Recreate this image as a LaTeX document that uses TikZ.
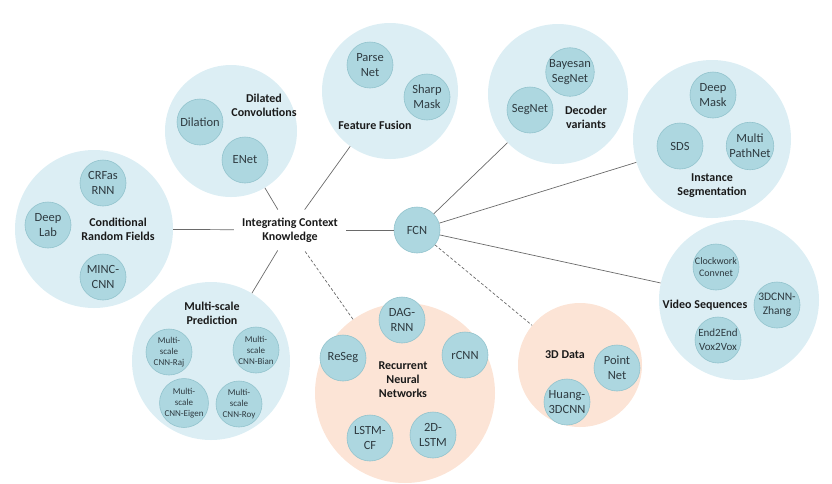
\documentclass[tikz,border=0pt]{standalone}
\usepackage{fontspec}
\setmainfont{Carlito}
\definecolor{bigb}{HTML}{DCEEF4}
\definecolor{peach}{HTML}{FCE4D6}
\definecolor{smb}{HTML}{ADD7E0}
\definecolor{smbd}{HTML}{92C3CD}
\definecolor{txt}{HTML}{2E3A40}
\definecolor{lbtxt}{HTML}{1A1A1A}
\definecolor{lc}{HTML}{6A6A6A}
\begin{document}
\begin{tikzpicture}[x=1pt,y=-1pt,
  bigblue/.style={circle, fill=bigb, inner sep=0pt, minimum size=#1},
  bigpeach/.style={circle, fill=peach, inner sep=0pt, minimum size=#1},
  sm/.style={circle, fill=smb, draw=smbd, line width=0.6pt, inner sep=0pt, minimum size=46pt,
    font=\fontsize{12.5}{15}\selectfont, text=txt, align=center},
  smx/.style={sm, font=\fontsize{9}{11}\selectfont},
  lbl/.style={font=\bfseries\fontsize{12}{14}\selectfont, align=center, text=lbtxt},
  conn/.style={draw=lc, line width=0.7pt},
  dconn/.style={conn, dash pattern=on 3pt off 2pt}]
\useasboundingbox (0,0) rectangle (832,483);

% big circles
\node[bigblue=158pt] (crf) at (94,229) {};
\node[bigblue=132pt] (dil) at (231,131) {};
\node[bigblue=136pt] (ff) at (390,91) {};
\node[bigblue=140pt] (dec) at (558,94) {};
\node[bigblue=158pt] (ins) at (712,139) {};
\node[bigblue=160pt] (vid) at (739,300) {};
\node[bigpeach=124pt] (d3) at (580,365) {};
\node[bigpeach=180pt] (rnn) at (405,393) {};
\node[bigblue=158pt] (ms) at (211,361) {};

% hubs
\node[lbl, inner sep=8pt] (ick) at (290,230) {Integrating Context\\Knowledge};
\node[sm] (fcn) at (417,230) {FCN};

% connectors
\draw[conn] (crf) -- (ick);
\draw[conn] (dil) -- (ick);
\draw[conn] (ff) -- (ick);
\draw[conn] (ms) -- (ick);
\draw[dconn] (rnn) -- (ick);
\draw[conn] (ick) -- (fcn);
\draw[conn] (fcn) -- (dec);
\draw[conn] (fcn) -- (ins);
\draw[conn] (fcn) -- (vid);
\draw[dconn] (fcn) -- (d3);

% Conditional Random Fields
\node[sm] (crfrnn) at (103,183) {CRFas\\RNN};
\node[sm] (deeplab) at (48,225) {Deep\\Lab};
\node[sm] (minc) at (103,277) {MINC-\\CNN};
\node[lbl] (crfl) at (118,229) {Conditional\\Random Fields};

% Dilated Convolutions
\node[sm] (dilation) at (200,122) {Dilation};
\node[sm] (enet) at (245,160) {ENet};
\node[lbl] (dill) at (264,105) {Dilated\\Convolutions};

% Feature Fusion
\node[sm] (parse) at (370,65) {Parse\\Net};
\node[sm] (sharp) at (427,97) {Sharp\\Mask};
\node[lbl] (ffl) at (375,125) {Feature Fusion};

% Decoder variants
\node[sm] (bayes) at (570,72) {Bayesan\\SegNet};
\node[sm] (segnet) at (530,110) {SegNet};
\node[lbl] (decl) at (586,117) {Decoder\\variants};

% Instance Segmentation
\node[sm] (deepmask) at (713,95) {Deep\\Mask};
\node[sm] (sds) at (680,146) {SDS};
\node[sm] (mpn) at (750,146) {Multi\\PathNet};
\node[lbl] (insl) at (712,186) {Instance\\Segmentation};

% Video Sequences
\node[smx, font=\fontsize{10}{12}\selectfont] (clock) at (716,267) {Clockwork\\Convnet};
\node[sm, font=\fontsize{11.5}{14}\selectfont] (zhang) at (777,305) {3DCNN-\\Zhang};
\node[sm, font=\fontsize{11}{14}\selectfont] (vox) at (718,340) {End2End\\Vox2Vox};
\node[lbl] (vidl) at (705,305) {Video Sequences};

% 3D Data
\node[sm] (point) at (617,368) {Point\\Net};
\node[sm] (huang) at (567,402) {Huang-\\3DCNN};
\node[lbl] (d3l) at (565,355) {3D Data};

% Recurrent Neural Networks
\node[sm] (dag) at (402,320) {DAG-\\RNN};
\node[sm] (rcnn) at (465,355) {rCNN};
\node[sm] (reseg) at (343,358) {ReSeg};
\node[sm] (lstmcf) at (370,438) {LSTM-\\CF};
\node[sm] (lstm2d) at (433,435) {2D-\\LSTM};
\node[lbl] (rnnl) at (403,380) {Recurrent\\Neural\\Networks};

% Multi-scale Prediction
\node[lbl] (msl) at (212,313) {Multi-scale\\Prediction};
\node[smx] (raj) at (169,352) {Multi-\\scale\\CNN-Raj};
\node[smx] (bian) at (256,350) {Multi-\\scale\\CNN-Bian};
\node[smx] (eigen) at (184,403) {Multi-\\scale\\CNN-Eigen};
\node[smx] (roy) at (239,404) {Multi-\\scale\\CNN-Roy};
\end{tikzpicture}
\end{document}
